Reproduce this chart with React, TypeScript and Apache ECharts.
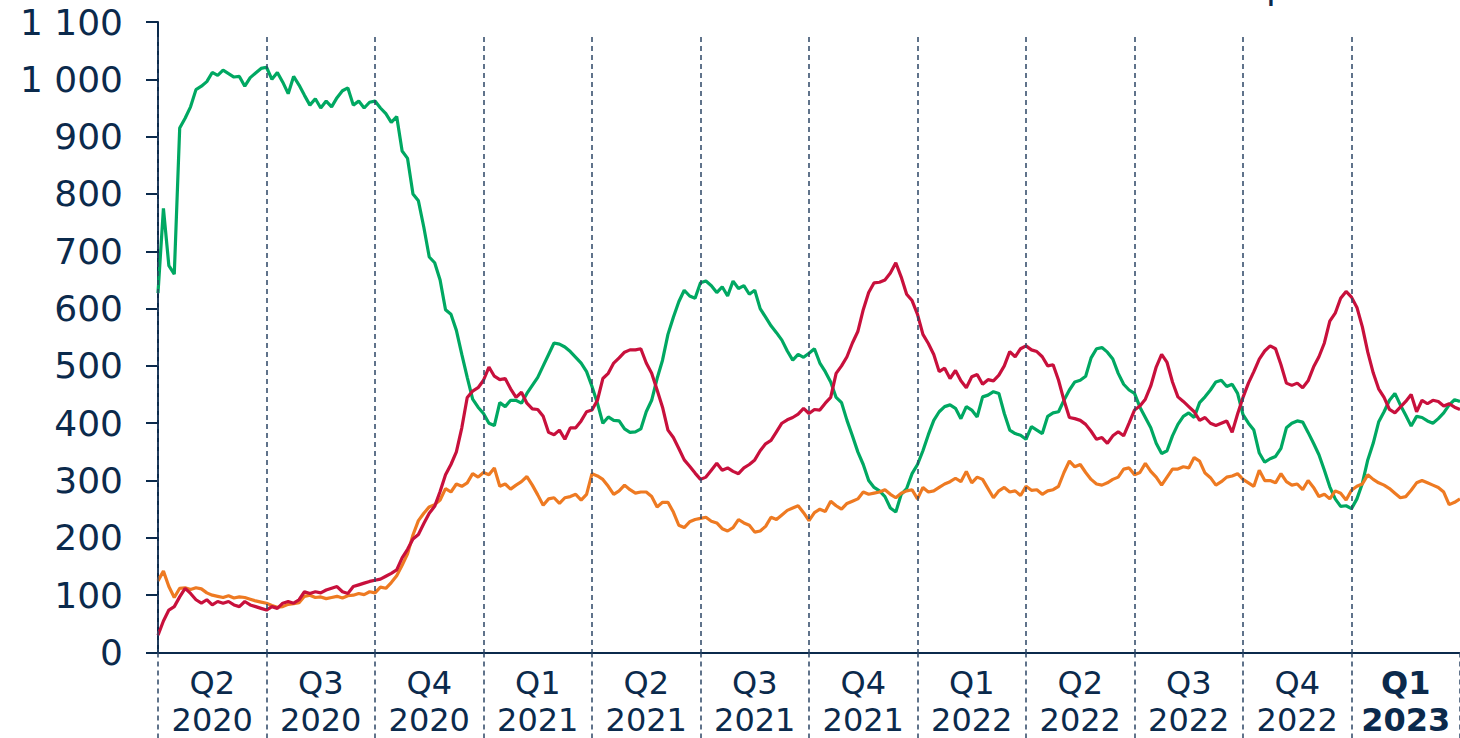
import React, { useEffect, useRef } from "react";
import * as echarts from "echarts";

// 20 samples per quarter (Q2 2020 .. Q1 2023), plus final point
const quarters = ["Q2", "Q3", "Q4", "Q1", "Q2", "Q3", "Q4", "Q1", "Q2", "Q3", "Q4", "Q1"];
const years = ["2020", "2020", "2020", "2021", "2021", "2021", "2021", "2022", "2022", "2022", "2022", "2023"];
const yTicks = [0, 100, 200, 300, 400, 500, 600, 700, 800, 900, 1000, 1100];
const STEPS_PER_QUARTER = 20;

const green = [
  627, 775, 675, 660, 915, 932, 952, 982, 988, 996, 1012, 1007, 1016, 1010, 1004, 1005, 988, 1003, 1011, 1019,
  1021, 1000, 1012, 995, 975, 1005, 990, 972, 955, 966, 950, 962, 952, 968, 980, 985, 955, 962, 950, 960,
  962, 950, 940, 925, 935, 875, 862, 800, 788, 742, 690, 680, 650, 598, 590, 562, 520, 480, 442, 428,
  417, 400, 396, 436, 429, 440, 440, 435, 452, 466, 480, 500, 520, 540, 538, 533, 525, 515, 505, 490,
  464, 435, 400, 411, 405, 404, 390, 384, 385, 390, 420, 440, 478, 510, 555, 585, 612, 632, 622, 618,
  645, 648, 640, 628, 638, 622, 648, 635, 640, 625, 632, 600, 585, 570, 558, 545, 526, 510, 520, 515,
  522, 530, 505, 490, 472, 445, 436, 405, 378, 350, 328, 300, 288, 282, 272, 252, 245, 276, 286, 312,
  328, 352, 380, 405, 420, 429, 432, 426, 408, 429, 423, 411, 446, 449, 455, 452, 417, 388, 382, 379,
  372, 394, 388, 382, 412, 418, 420, 440, 458, 472, 475, 482, 514, 530, 532, 524, 512, 487, 468, 458,
  452, 428, 410, 392, 365, 347, 352, 378, 398, 412, 418, 410, 436, 446, 458, 472, 475, 464, 468, 452,
  415, 400, 388, 348, 332, 338, 342, 356, 392, 400, 404, 402, 384, 365, 345, 318, 289, 268, 255, 256,
  251, 268, 295, 336, 365, 402, 420, 440, 452, 432, 414, 395, 412, 410, 404, 400, 408, 418, 432, 441, 438,
];

const red = [
  30, 55, 74, 80, 97, 112, 103, 92, 86, 92, 83, 89, 86, 89, 83, 80, 89, 83, 80, 77,
  74, 80, 77, 86, 89, 86, 92, 106, 103, 106, 104, 109, 112, 115, 106, 103, 115, 118, 121, 124,
  126, 128, 133, 138, 144, 165, 180, 198, 206, 225, 243, 255, 281, 310, 328, 350, 392, 445, 456, 462,
  475, 498, 482, 476, 478, 460, 445, 454, 435, 425, 424, 412, 384, 380, 388, 372, 392, 392, 404, 420,
  423, 440, 478, 487, 505, 514, 524, 528, 528, 530, 505, 487, 458, 428, 388, 375, 356, 336, 325, 313,
  302, 306, 318, 330, 318, 322, 316, 312, 322, 328, 336, 352, 364, 370, 385, 400, 406, 410, 416, 426,
  417, 424, 423, 435, 445, 487, 500, 516, 540, 560, 598, 628, 645, 646, 650, 662, 680, 655, 625, 614,
  590, 555, 539, 520, 490, 496, 478, 492, 474, 462, 481, 485, 468, 476, 474, 484, 500, 525, 516, 530,
  535, 528, 525, 516, 500, 502, 475, 440, 410, 408, 405, 398, 386, 372, 375, 365, 378, 385, 378, 400,
  423, 430, 442, 465, 498, 520, 506, 472, 446, 438, 429, 420, 405, 410, 400, 396, 400, 404, 384, 416,
  445, 470, 490, 512, 526, 535, 530, 502, 470, 466, 470, 462, 474, 498, 516, 540, 578, 592, 618, 630,
  620, 602, 568, 524, 488, 460, 445, 424, 418, 428, 438, 450, 420, 440, 434, 440, 438, 430, 434, 428, 424,
];

const orange = [
  125, 142, 115, 96, 112, 113, 110, 113, 111, 104, 100, 98, 96, 99, 95, 97, 96, 93, 90, 88,
  86, 82, 79, 80, 84, 85, 87, 98, 100, 96, 97, 94, 96, 98, 95, 99, 100, 103, 101, 106,
  104, 114, 112, 122, 134, 152, 172, 205, 230, 243, 254, 258, 266, 286, 280, 294, 290, 296, 312, 306,
  314, 310, 322, 290, 294, 285, 292, 298, 307, 292, 275, 257, 268, 270, 260, 270, 272, 276, 266, 276,
  312, 308, 302, 290, 276, 282, 292, 284, 278, 280, 280, 272, 254, 262, 262, 245, 222, 218, 228, 232,
  234, 236, 229, 226, 216, 212, 218, 232, 226, 222, 210, 212, 220, 236, 232, 240, 248, 252, 256, 244,
  230, 244, 250, 246, 264, 256, 250, 260, 264, 268, 280, 276, 278, 280, 284, 276, 270, 278, 282, 284,
  268, 288, 280, 282, 288, 294, 298, 304, 298, 316, 296, 306, 302, 286, 270, 282, 288, 280, 282, 274,
  290, 283, 284, 276, 282, 284, 290, 314, 334, 324, 328, 314, 302, 294, 292, 296, 302, 306, 320, 322,
  310, 314, 330, 316, 306, 292, 306, 320, 320, 324, 322, 340, 334, 313, 305, 292, 298, 306, 308, 312,
  302, 296, 290, 318, 300, 300, 296, 312, 298, 292, 294, 284, 300, 288, 272, 276, 268, 282, 278, 266,
  283, 290, 294, 310, 302, 296, 292, 286, 278, 270, 272, 283, 296, 300, 296, 292, 288, 280, 258, 262, 268,
];

const NAVY = "#0b2a4c";
const DASH = "#2c4665";
const FONT = '"DejaVu Sans", Verdana, sans-serif';
const GREEN = "#00a862";
const RED = "#c8103c";
const ORANGE = "#ee7a22";

const fmtThousands = (v: number) => String(v).replace(/\B(?=(\d{3})+(?!\d))/g, " ");

export default function App() {
  const ref = useRef<HTMLDivElement>(null);
  useEffect(() => {
    if (!ref.current) return;
    const chart = echarts.init(ref.current, undefined, { renderer: "svg" });
    const nQ = quarters.length;
    const xMax = nQ * STEPS_PER_QUARTER;
    const cats = quarters.map((q, i) => q + "\n" + years[i]);
    const quarterLines = quarters.map((_, i) => [
      { coord: [i * STEPS_PER_QUARTER, 1074] },
      { coord: [i * STEPS_PER_QUARTER, 0] },
    ]);
    const toPairs = (arr: number[]) => arr.map((v, i) => [i, v]);
    const option: any = {
      animation: false,
      grid: { left: 158, right: 0, top: 22, bottom: 85.5, containLabel: false },
      xAxis: [
        {
          type: "value",
          min: 0,
          max: xMax,
          axisLine: { show: true, onZero: false, lineStyle: { color: NAVY, width: 2 } },
          axisTick: { show: false },
          axisLabel: { show: false },
          splitLine: { show: false },
        },
        {
          type: "category",
          data: cats,
          boundaryGap: true,
          position: "bottom",
          axisLine: { show: false },
          axisTick: {
            show: true,
            interval: 0,
            length: 90,
            lineStyle: { color: DASH, width: 1.5, type: [5, 4] },
          },
          axisLabel: {
            interval: 0,
            margin: 12,
            formatter: (v: string, i: number) =>
              v
                .split("\n")
                .map((s) => (i === nQ - 1 ? `{b|${s}}` : `{n|${s}}`))
                .join("\n"),
            rich: {
              n: { fontSize: 32, fontFamily: FONT, color: NAVY, lineHeight: 37 },
              b: { fontSize: 32, fontFamily: FONT, color: NAVY, lineHeight: 37, fontWeight: "bold" },
            },
          },
          splitLine: { show: false },
        },
      ],
      yAxis: {
        type: "value",
        min: yTicks[0],
        max: yTicks[yTicks.length - 1],
        interval: yTicks[1] - yTicks[0],
        axisLine: { show: true, lineStyle: { color: NAVY, width: 2 } },
        axisTick: { show: true, length: 12, lineStyle: { color: NAVY, width: 2 } },
        axisLabel: {
          fontSize: 36,
          color: NAVY,
          fontFamily: FONT,
          margin: 35,
          formatter: (v: number) => fmtThousands(v),
        },
        splitLine: { show: false },
      },
      series: [
        {
          type: "line",
          data: [],
          z: 1,
          silent: true,
          markLine: {
            silent: true,
            symbol: ["none", "none"],
            label: { show: false },
            lineStyle: { color: DASH, width: 1.5, type: [5, 4], opacity: 1 },
            emphasis: { disabled: true },
            data: quarterLines,
          },
        },
        {
          type: "line",
          data: toPairs(green),
          showSymbol: false,
          symbol: "none",
          z: 3,
          lineStyle: { color: GREEN, width: 3.2 },
        },
        {
          type: "line",
          data: toPairs(orange),
          showSymbol: false,
          symbol: "none",
          z: 3,
          lineStyle: { color: ORANGE, width: 3.2 },
        },
        {
          type: "line",
          data: toPairs(red),
          showSymbol: false,
          symbol: "none",
          z: 3,
          lineStyle: { color: RED, width: 3.2 },
        },
      ],
      graphic: [
        {
          type: "text",
          x: 1266,
          y: -14,
          style: { text: "p", fontSize: 36, fontFamily: FONT, fill: NAVY, verticalAlign: "middle" },
        },
      ],
    };
    chart.setOption(option);
    return () => chart.dispose();
  }, []);
  return (
    <div
      ref={ref}
      style={{ position: "fixed", left: 0, top: 0, width: 1460, height: 738, background: "#fff" }}
    />
  );
}
